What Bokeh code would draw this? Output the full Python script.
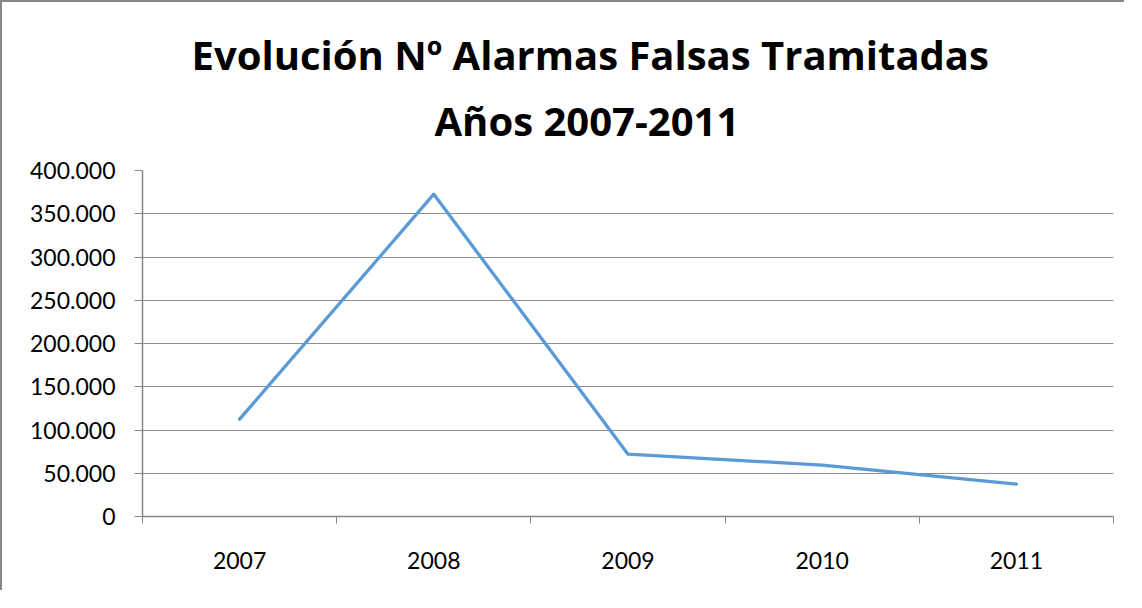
from bokeh.plotting import figure
from bokeh.models import FixedTicker, Title, Range1d
from bokeh.embed import file_html
from bokeh.resources import INLINE

# ---- data ----
years = ["2007", "2008", "2009", "2010", "2011"]
alarmas = [112500, 372600, 72000, 59500, 37500]
y_ticks = [0, 50000, 100000, 150000, 200000, 250000, 300000, 350000, 400000]
y_tick_labels = ["0", "50.000", "100.000", "150.000", "200.000",
                 "250.000", "300.000", "350.000", "400.000"]
title_lines = ["Evolución Nº Alarmas Falsas Tramitadas", "Años 2007-2011"]

FONT = "Lato"
TITLE_FONT = "Open Sans"
GRAY = "#868686"

x_pos = [i + 0.5 for i in range(len(years))]
x_bounds = list(range(len(years) + 1))

p = figure(width=1124, height=590, output_backend="svg", toolbar_location=None,
           x_range=Range1d(0, len(years)), y_range=Range1d(0, 400000),
           min_border_left=140, min_border_right=13,
           min_border_top=168, min_border_bottom=76)
p.styles = {"border-left": "2px solid #868686", "border-top": "2px solid #868686"}
p.outline_line_color = None
p.background_fill_color = "white"
p.border_fill_color = "white"

p.line(x_pos, alarmas, line_color="#5B9BD5", line_width=3.3,
       line_join="round", line_cap="round")

# grid
p.xgrid.visible = False
p.ygrid.ticker = FixedTicker(ticks=y_ticks)
p.ygrid.grid_line_color = "#8f8f8f"
p.ygrid.grid_line_width = 1

# y axis
ya = p.yaxis[0]
ya.ticker = FixedTicker(ticks=y_ticks, minor_ticks=[])
ya.major_label_overrides = {t: l for t, l in zip(y_ticks, y_tick_labels)}
ya.axis_line_color = GRAY
ya.axis_line_width = 1.5
ya.major_tick_line_color = GRAY
ya.major_tick_line_width = 1
ya.major_tick_out = 8
ya.major_tick_in = 0
ya.minor_tick_out = 0
ya.minor_tick_in = 0
ya.major_label_standoff = 19
ya.major_label_text_font = FONT
ya.major_label_text_font_size = "23px"
ya.major_label_text_color = "black"

# x axis
xa = p.xaxis[0]
xa.ticker = FixedTicker(ticks=x_pos, minor_ticks=x_bounds)
xa.major_label_overrides = {xp: y for xp, y in zip(x_pos, years)}
xa.axis_line_color = GRAY
xa.axis_line_width = 1.5
xa.major_tick_out = 0
xa.major_tick_in = 0
xa.minor_tick_out = 7
xa.minor_tick_in = 0
xa.minor_tick_line_color = GRAY
xa.minor_tick_line_width = 1
xa.major_label_standoff = 28
xa.major_label_text_font = FONT
xa.major_label_text_font_size = "23px"
xa.major_label_text_color = "black"

# title (two lines): subtitle first (closest to plot), then main line
p.title = None
for txt, so, off in zip(reversed(title_lines), [46, -28], [292, 49]):
    p.add_layout(Title(text=txt, align="left", offset=off,
                       standoff=so, text_font=TITLE_FONT, text_font_style="bold",
                       text_font_size="40px", text_color="black"), "above")

open("out.html", "w").write(file_html(p, INLINE))
